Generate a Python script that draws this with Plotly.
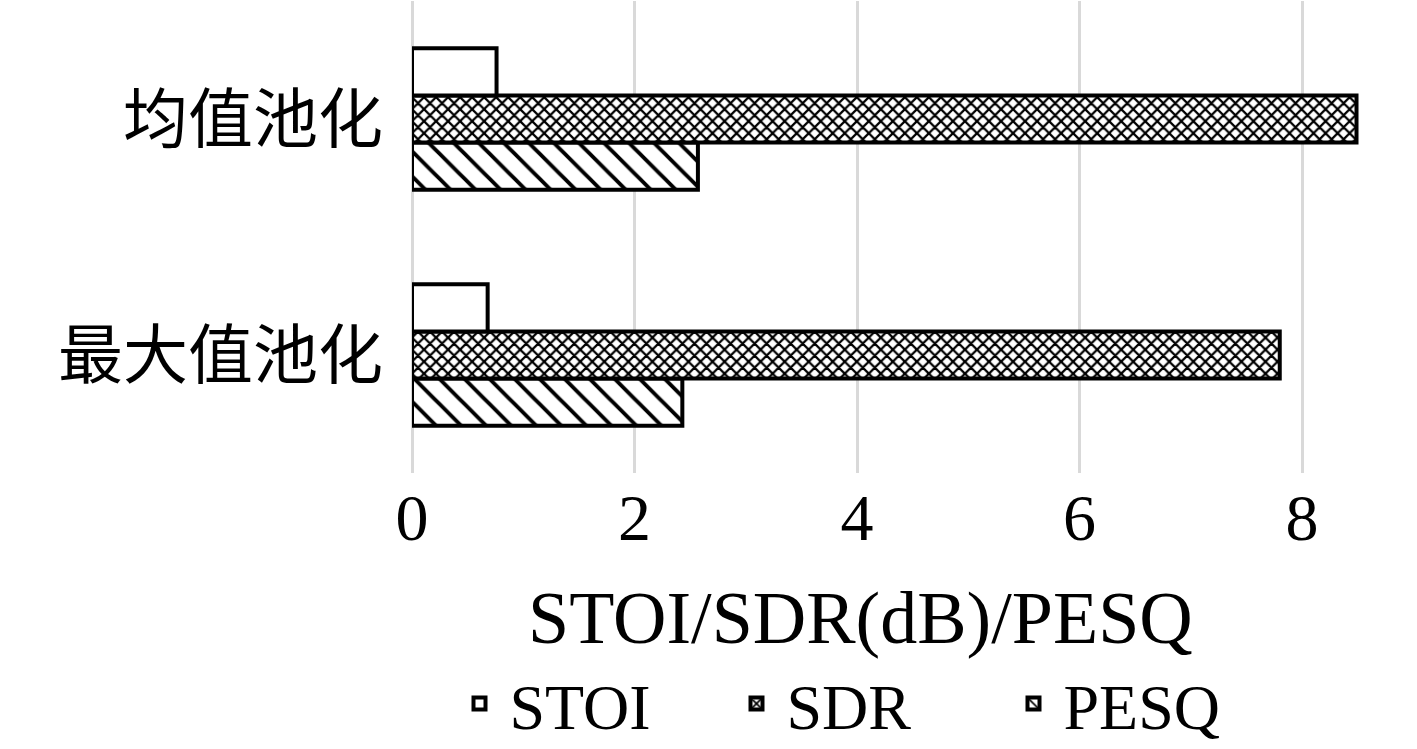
import plotly.graph_objects as go

# data
categories = ['最大值池化', '均值池化']   # bottom -> top
stoi = [0.68, 0.76]
sdr = [7.80, 8.49]
pesq = [2.43, 2.57]

tick_vals = [0, 2, 4, 6, 8]
x_title = 'STOI/SDR(dB)/PESQ'

SERIF = 'Liberation Serif, Times New Roman, serif'
CJK = 'Noto Sans CJK SC'
GRID = '#d9d9d9'

# plot area in pixels: x 412..1391, y 1..473
PLOT_L, PLOT_W, PLOT_B, PLOT_H = 412, 979, 473, 472

fig = go.Figure()

# traces are added bottom-up inside each group (PESQ at bottom, STOI on top)
fig.add_trace(go.Bar(
    name='PESQ', y=categories, x=pesq, orientation='h',
    marker=dict(color='white', line=dict(color='black', width=4),
                pattern=dict(shape='\\', size=17.7, solidity=0.22,
                             fgcolor='black', fgopacity=1, bgcolor='white')),
))
fig.add_trace(go.Bar(
    name='SDR', y=categories, x=sdr, orientation='h',
    marker=dict(color='white', line=dict(color='black', width=4),
                pattern=dict(shape='x', size=8.5, solidity=0.45,
                             fgcolor='black', fgopacity=1, bgcolor='white')),
))
fig.add_trace(go.Bar(
    name='STOI', y=categories, x=stoi, orientation='h',
    marker=dict(color='white', line=dict(color='black', width=4)),
))

fig.update_layout(
    width=1417, height=749,
    margin=dict(l=PLOT_L, r=1417 - PLOT_L - PLOT_W, t=1, b=749 - PLOT_B,
                autoexpand=False),
    plot_bgcolor='white', paper_bgcolor='white',
    barmode='group', bargap=0.4, bargroupgap=0,
    font=dict(family=SERIF, color='black', size=66),
    showlegend=True,
    legend=dict(orientation='h', traceorder='reversed',
                x=(865 - PLOT_L) / PLOT_W, xanchor='center',
                y=(PLOT_B - 704) / PLOT_H, yanchor='middle',
                font=dict(family=SERIF, size=64, color='black'),
                itemwidth=50, entrywidth=212, entrywidthmode='pixels',
                bgcolor='rgba(0,0,0,0)'),
    xaxis=dict(range=[0, 8.8], tickvals=tick_vals, automargin=False,
               showgrid=True, gridcolor=GRID, gridwidth=3,
               zeroline=True, zerolinecolor=GRID, zerolinewidth=3,
               showline=False, ticks='',
               tickfont=dict(family=SERIF, size=66, color='black')),
    yaxis=dict(showgrid=False, showline=False, ticks='', automargin=False,
               ticklabelstandoff=28,
               tickfont=dict(family=CJK, size=65, color='black')),
    annotations=[dict(
        text=x_title, xref='paper', yref='paper',
        x=(860 - PLOT_L) / PLOT_W, y=(PLOT_B - 618) / PLOT_H,
        xanchor='center', yanchor='middle', showarrow=False,
        font=dict(family=SERIF, size=74, color='black'),
    )],
)

# the page body has a default 8px margin; drop it so the figure fills the window
fig.write_html('out.html', config={'displayModeBar': False},
               post_script="document.body.style.margin='0';")
